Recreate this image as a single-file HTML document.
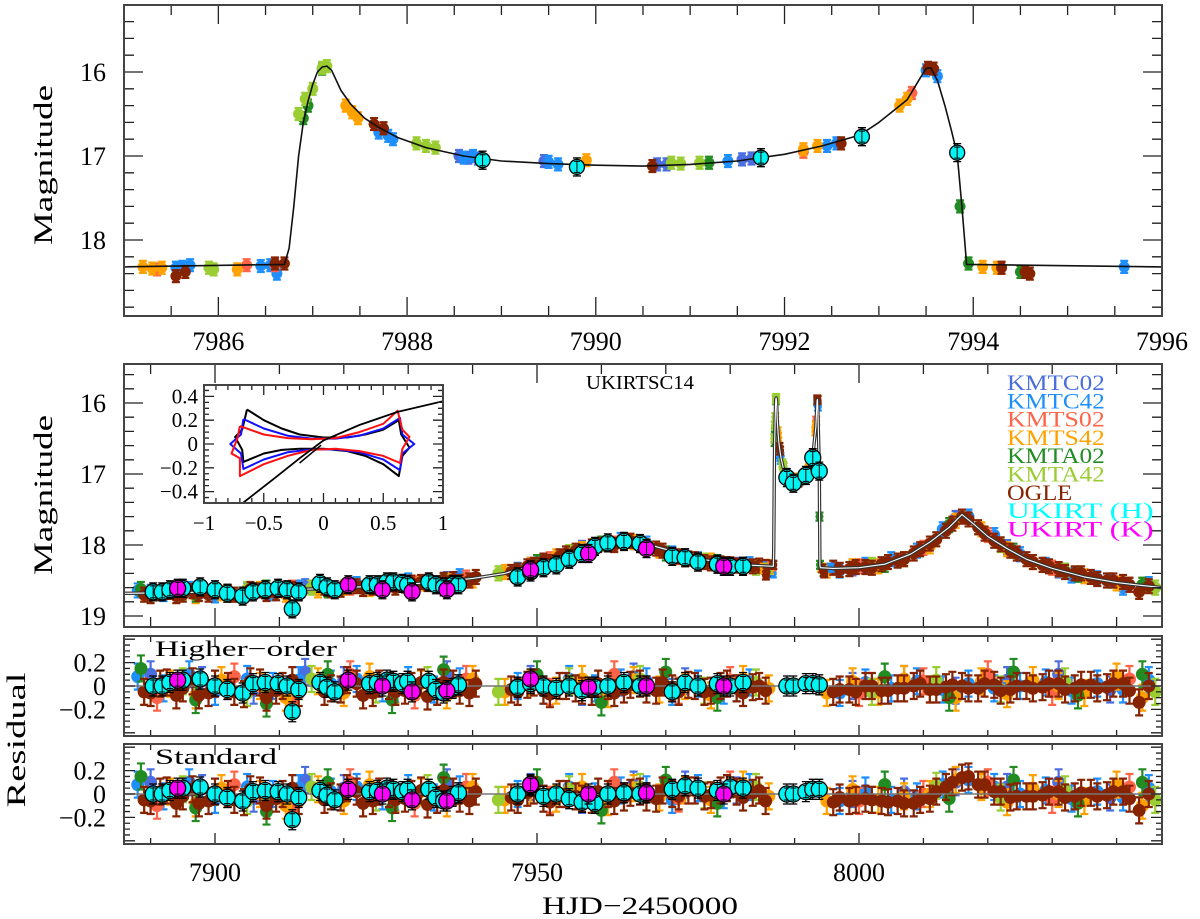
<!DOCTYPE html>
<html><head><meta charset="utf-8"><style>
body{margin:0;background:#fff}
svg{display:block;font-family:"Liberation Serif",serif}
</style></head><body>
<svg id="chart" width="1200" height="919" viewBox="0 0 1200 919" xmlns="http://www.w3.org/2000/svg">
<rect width="1200" height="919" fill="#fff"/>
<g id="top-panel"></g>
<g id="mid-panel"></g>
<g id="res-h"></g>
<g id="res-s"></g>
<g id="inset"></g>
<text style="font-family:'Liberation Serif',serif" transform="translate(52,165) rotate(-90)" text-anchor="middle" font-size="26" textLength="160" lengthAdjust="spacingAndGlyphs">Magnitude</text>
<text style="font-family:'Liberation Serif',serif" transform="translate(52,495) rotate(-90)" text-anchor="middle" font-size="26" textLength="160" lengthAdjust="spacingAndGlyphs">Magnitude</text>
<text style="font-family:'Liberation Serif',serif" transform="translate(25,740) rotate(-90)" text-anchor="middle" font-size="26" textLength="135" lengthAdjust="spacingAndGlyphs">Residual</text>
<text style="font-family:'Liberation Serif',serif" x="640" y="914" text-anchor="middle" font-size="25" textLength="196" lengthAdjust="spacingAndGlyphs">HJD−2450000</text>
<text style="font-family:'Liberation Serif',serif" x="640" y="389" text-anchor="middle" font-size="20" textLength="108" lengthAdjust="spacingAndGlyphs">UKIRTSC14</text>
<text style="font-family:'Liberation Serif',serif" x="155" y="656" font-size="22" textLength="182" lengthAdjust="spacingAndGlyphs">Higher−order</text>
<text style="font-family:'Liberation Serif',serif" x="155" y="764" font-size="22" textLength="122" lengthAdjust="spacingAndGlyphs">Standard</text>
<g id="legend"></g>
</svg>
<script>
// ---------- data ----------
const topTickLabels=[7986,7988,7990,7992,7994,7996];
const topYLabels=[16,17,18];
const midTickLabels=[7900,7950,8000];
const midYLabels=[16,17,18,19];
const resYLabels=[0.2,0,-0.2];
const insetXLabels=[-1,-0.5,0,0.5,1];
const insetYLabels=[0.4,0.2,0,-0.2,-0.4];

const topModelT=[7985,7986.7,7986.75,7986.8,7986.85,7986.9,7986.95,7987.0,7987.05,7987.1,7987.15,7987.2,7987.3,7987.4,7987.55,7987.7,7987.9,7988.2,7988.6,7989,7989.5,7990,7990.5,7991,7991.5,7992,7992.4,7992.8,7993.0,7993.3,7993.45,7993.5,7993.55,7993.62,7993.7,7993.77,7993.83,7993.88,7993.93,7996];
const topModelM=[18.32,18.29,18.1,17.6,17.0,16.6,16.35,16.15,16.0,15.94,15.93,15.98,16.22,16.38,16.55,16.66,16.78,16.9,17.0,17.06,17.09,17.11,17.12,17.1,17.06,16.98,16.88,16.75,16.6,16.33,16.05,15.96,15.95,16.1,16.4,16.7,16.98,17.6,18.29,18.32];
const midModelT1=[7886,7895,7905,7915,7925,7935,7940,7945,7950,7955,7960,7963,7966,7970,7975,7980,7986.7];
const midModelM1=[18.68,18.67,18.65,18.62,18.58,18.52,18.47,18.4,18.27,18.14,18.02,17.96,17.96,18.06,18.19,18.27,18.3];
const midModelT2=[7994,7996,8000,8004,8008,8011,8014,8016,8018,8020,8023,8026,8030,8035,8040,8047];
const midModelM2=[18.32,18.33,18.32,18.27,18.13,17.96,17.75,17.57,17.72,17.88,18.05,18.2,18.33,18.45,18.53,18.6];

const capT_KMTC02=[7988.55,7988.65,7988.75,7989.45,7990.65,7990.75,7991.55,7991.65];
const capM_KMTC02=[17.0,17.02,17.03,17.06,17.1,17.1,17.04,17.03];
const capT_KMTC42=[7985.55,7985.62,7985.7,7986.45,7986.55,7986.62,7987.7,7987.8,7987.85,7988.6,7988.7,7989.5,7989.6,7991.4,7992.45,7992.55,7993.5,7993.62,7995.6];
const capM_KMTC42=[18.33,18.32,18.3,18.31,18.3,18.4,16.72,16.76,16.8,17.02,17.0,17.07,17.1,17.06,16.88,16.85,15.98,16.05,18.32];
const capT_KMTS02=[7985.35,7986.3,7986.6,7992.2,7993.35,7994.3];
const capM_KMTS02=[18.35,18.3,18.3,16.95,16.25,18.33];
const capT_KMTS42=[7985.2,7985.3,7985.4,7986.2,7987.35,7987.42,7987.48,7989.9,7992.2,7992.35,7993.22,7993.3,7994.1,7994.25];
const capM_KMTS42=[18.32,18.34,18.33,18.35,16.4,16.48,16.55,17.05,16.92,16.88,16.4,16.32,18.32,18.33];
const capT_KMTA02=[7986.9,7986.95,7987.1,7991.2,7993.86,7993.95,7994.5];
const capM_KMTA02=[16.55,16.4,15.96,17.08,17.6,18.28,18.38];
const capT_KMTA42=[7985.9,7985.95,7986.85,7986.92,7987.0,7987.1,7987.15,7988.1,7988.2,7988.3,7990.8,7990.9,7991.1];
const capM_KMTA42=[18.33,18.35,16.5,16.32,16.2,15.95,15.93,16.85,16.88,16.9,17.08,17.09,17.08];
const capT_OGLE=[7985.55,7985.65,7986.6,7986.7,7987.65,7987.75,7990.6,7992.6,7993.52,7993.58,7994.3,7994.55,7994.6];
const capM_OGLE=[18.43,18.38,18.28,18.28,16.62,16.67,17.12,16.85,15.95,15.96,18.33,18.38,18.4];
const capT_UKH=[7988.8,7989.8,7991.75,7992.82,7993.83];
const capM_UKH=[17.05,17.13,17.02,16.77,16.96];
const capRH_UKH=[0.0,0.0,0.02,0.02,0.01];
const capRS_UKH=[0.0,0.0,0.02,0.04,0.04];

const t_OGLE=[7889,7891.5,7894,7896.5,7899,7902,7904.5,7907,7909.5,7912,7917,7919.5,7922,7924.5,7927,7929.5,7932,7934.5,7937,7939.5,7946,7948.5,7951,7953.5,7956,7958.5,7961,7963.5,7966,7968.5,7971,7973.5,7976,7978.5,7981,7983.5,7985.5,7996,7998.5,8001,8003.5,8006,8008.5,8011,8013.5,8016,8018.5,8021,8023.5,8026,8028.5,8031,8033.5,8036,8038.5,8041,8043.5];
const m_OGLE=[18.7,18.68,18.72,18.65,18.7,18.66,18.7,18.64,18.68,18.62,18.6,18.63,18.58,18.6,18.55,18.57,18.52,18.55,18.48,18.5,18.38,18.3,18.22,18.16,18.08,18.02,17.98,17.96,17.99,18.05,18.14,18.19,18.24,18.26,18.29,18.3,18.31,18.32,18.34,18.31,18.27,18.22,18.12,17.98,17.8,17.6,17.75,17.94,18.08,18.2,18.28,18.34,18.4,18.45,18.5,18.52,18.66];
const rh_OGLE=[-0.05,0.02,-0.08,0.04,-0.06,0.0,-0.07,0.03,-0.04,0.05,-0.05,-0.03,0.02,-0.06,0.0,-0.04,0.03,-0.05,0.02,-0.06,-0.03,0.01,-0.04,0.0,-0.02,-0.05,0.0,-0.03,0.02,-0.04,-0.02,0.01,-0.05,0.0,-0.02,-0.01,-0.04,-0.05,-0.03,0.0,-0.04,-0.02,0.0,-0.03,-0.01,0.0,-0.02,0.01,-0.03,0.0,-0.01,0.02,-0.02,0.01,-0.01,0.02,-0.14];
const rs_OGLE=[-0.05,0.02,-0.08,0.04,-0.06,0.0,-0.07,0.03,-0.04,0.05,-0.05,-0.03,0.02,-0.06,0.0,-0.04,0.03,-0.05,0.02,-0.06,-0.03,0.01,-0.04,0.0,-0.02,-0.05,0.0,-0.03,0.02,-0.04,0.0,0.03,-0.02,0.03,0.02,0.01,-0.06,-0.07,-0.06,-0.04,-0.06,-0.06,-0.08,-0.04,0.06,0.14,0.08,0.02,-0.03,-0.02,-0.01,0.02,-0.02,0.01,-0.01,0.02,-0.14];
const t_OGLE2=[7890,7892.5,7895,7897.5,7900,7903,7905.5,7908,7910.5,7913,7918,7920.5,7923,7925.5,7928,7930.5,7933,7935.5,7938,7940.5,7947,7949.5,7952,7954.5,7957,7959.5,7962,7964.5,7967,7969.5,7972,7974.5,7977,7979.5,7982,7984.5,7997,7999.5,8002,8004.5,8007,8009.5,8012,8014.5,8017,8019.5,8022,8024.5,8027,8029.5,8032,8034.5,8037,8039.5,8042,8045];
const m_OGLE2=[18.72,18.66,18.7,18.69,18.64,18.7,18.62,18.69,18.63,18.67,18.64,18.58,18.62,18.56,18.6,18.53,18.55,18.49,18.52,18.45,18.36,18.28,18.24,18.12,18.1,18.0,18.0,17.94,18.02,18.08,18.16,18.2,18.26,18.27,18.32,18.29,18.35,18.31,18.32,18.24,18.2,18.06,17.92,17.7,17.64,17.84,17.99,18.12,18.24,18.3,18.38,18.4,18.48,18.5,18.56,18.58];
const rh_OGLE2=[-0.06,0.03,-0.02,-0.08,0.02,-0.05,0.04,-0.1,0.0,-0.06,-0.02,0.05,-0.08,0.02,-0.05,0.0,-0.09,0.03,-0.04,0.02,-0.05,0.03,-0.07,0.0,-0.04,0.02,-0.06,0.01,-0.03,0.03,-0.05,0.0,-0.04,0.02,-0.06,0.0,-0.03,-0.05,0.0,-0.04,-0.02,0.02,-0.03,0.01,-0.02,0.02,-0.04,0.0,-0.02,0.02,-0.03,0.01,-0.02,0.02,-0.04,0.0];
const rs_OGLE2=[-0.06,0.03,-0.02,-0.08,0.02,-0.05,0.04,-0.1,0.0,-0.06,-0.02,0.05,-0.08,0.02,-0.05,0.0,-0.09,0.03,-0.04,0.02,-0.05,0.03,-0.07,0.0,-0.04,0.02,-0.06,0.01,-0.03,0.03,-0.02,0.03,-0.01,0.05,-0.03,0.03,-0.03,-0.05,-0.05,-0.07,-0.08,-0.05,0.02,0.1,0.15,0.08,0.02,-0.02,-0.02,0.02,-0.03,0.01,-0.02,0.02,-0.04,0.0];
const t_KMTC42=[7888,7892,7896,7900,7905,7909,7913,7918,7922,7926,7930,7934,7938,7947,7951,7955,7959,7963,7967,7971,7975,7979,7983,7997,8001,8005,8009,8013,8017,8021,8025,8029,8033,8037,8041,8045];
const m_KMTC42=[18.64,18.69,18.62,18.71,18.63,18.68,18.6,18.62,18.55,18.6,18.5,18.55,18.44,18.35,18.24,18.1,18.04,17.93,17.98,18.12,18.2,18.3,18.27,18.36,18.28,18.2,18.08,17.78,17.6,17.86,18.13,18.28,18.43,18.47,18.6,18.55];
const rh_KMTC42=[0.08,-0.02,0.1,-0.05,0.06,0.0,0.05,0.02,0.06,-0.02,0.05,-0.03,0.04,0.0,-0.04,0.06,-0.02,0.03,0.04,-0.05,0.02,-0.04,0.03,-0.06,0.03,-0.02,0.04,-0.03,0.02,-0.02,0.0,0.03,-0.04,0.02,-0.03,0.05];
const rs_KMTC42=[0.08,-0.02,0.1,-0.05,0.06,0.0,0.05,0.02,0.06,-0.02,0.05,-0.03,0.04,0.0,-0.04,0.06,-0.02,0.03,0.04,-0.05,0.05,-0.01,0.06,-0.06,0.03,-0.05,-0.02,0.08,0.12,0.06,0.0,0.03,-0.04,0.02,-0.03,0.05];
const t_KMTC02=[7890,7898,7906,7914,7920,7928,7936,7949,7957,7965,7973,7981,7999,8007,8015,8023,8031,8039];
const m_KMTC02=[18.66,18.64,18.66,18.58,18.6,18.55,18.48,18.28,18.04,17.96,18.16,18.28,18.33,18.2,17.62,18.03,18.36,18.5];
const rh_KMTC02=[0.1,0.05,-0.04,0.12,0.05,-0.03,0.1,0.06,-0.05,0.08,0.04,-0.02,0.0,0.06,-0.04,0.05,0.1,-0.03];
const rs_KMTC02=[0.1,0.05,-0.04,0.12,0.05,-0.03,0.1,0.06,-0.05,0.08,0.08,0.03,0.0,0.02,0.1,0.06,0.1,-0.03];
const t_KMTS42=[7889,7893,7897,7901,7907,7911,7916,7920,7924,7928,7932,7936,7940,7945,7949,7953,7957,7961,7965,7969,7973,7977,7982,7986,7995,7999,8003,8007,8011,8015,8019,8023,8027,8031,8035,8040,8044];
const m_KMTS42=[18.7,18.66,18.72,18.68,18.62,18.7,18.64,18.6,18.62,18.56,18.54,18.5,18.5,18.38,18.28,18.16,18.06,17.98,17.96,18.08,18.2,18.22,18.3,18.31,18.36,18.3,18.3,18.2,18.02,17.66,17.78,18.06,18.24,18.34,18.44,18.54,18.56];
const rh_KMTS42=[-0.05,0.02,-0.08,0.05,0.0,-0.1,0.04,-0.06,0.08,-0.04,0.02,-0.08,0.06,-0.05,0.03,-0.04,0.06,-0.07,0.05,-0.03,0.0,-0.08,0.06,-0.02,-0.06,0.04,-0.05,0.06,-0.03,-0.1,0.04,-0.07,0.05,0.0,-0.06,0.08,-0.1];
const rs_KMTS42=[-0.05,0.02,-0.08,0.05,0.0,-0.1,0.04,-0.06,0.08,-0.04,0.02,-0.08,0.06,-0.05,0.03,-0.04,0.06,-0.07,0.05,-0.03,0.03,-0.05,0.08,-0.02,-0.06,0.04,-0.05,-0.02,0.0,0.12,0.06,-0.07,0.05,0.0,-0.06,0.08,-0.1];
const t_KMTS02=[7891,7903,7912,7921,7931,7939,7952,7962,7972,7980,8000,8010,8020,8030,8042];
const m_KMTS02=[18.67,18.7,18.6,18.6,18.54,18.46,18.2,17.98,18.17,18.27,18.3,18.04,17.86,18.32,18.56];
const rh_KMTS02=[-0.1,0.08,-0.12,0.1,-0.08,0.06,-0.05,0.1,-0.04,0.05,-0.06,0.04,0.1,-0.05,0.06];
const rs_KMTS02=[-0.1,0.08,-0.12,0.1,-0.08,0.06,-0.05,0.1,-0.04,0.08,-0.06,0.0,0.1,-0.05,0.06];
const t_KMTA02=[7888.5,7897,7908,7917.5,7927.5,7935.5,7950,7960,7970,7978,8004,8014,8024,8034,8044];
const m_KMTA02=[18.62,18.7,18.6,18.64,18.52,18.5,18.24,17.98,18.12,18.24,18.28,17.72,18.08,18.42,18.56];
const rh_KMTA02=[0.15,-0.12,-0.15,0.1,-0.12,0.14,0.1,-0.14,0.12,-0.1,0.08,-0.1,0.12,-0.08,0.1];
const rs_KMTA02=[0.15,-0.12,-0.15,0.1,-0.12,0.14,0.1,-0.14,0.12,-0.08,0.08,-0.04,0.12,-0.08,0.1];
const t_KMTA42=[7895,7905,7915,7925,7933,7944,7955,7966,7976,7984,8002,8012,8022,8032,8046];
const m_KMTA42=[18.68,18.62,18.6,18.58,18.52,18.4,18.1,17.97,18.22,18.32,18.28,17.92,18.0,18.36,18.6];
const rh_KMTA42=[0.04,-0.06,0.06,-0.03,0.05,-0.05,0.04,0.06,-0.04,0.03,-0.05,0.05,-0.03,0.04,-0.05];
const rs_KMTA42=[0.04,-0.06,0.06,-0.03,0.05,-0.05,0.04,0.06,-0.01,0.06,-0.05,0.07,-0.03,0.04,-0.05];
const t_UKH=[7890.4,7891.8,7893,7895,7897.7,7900,7901.9,7904.3,7905.9,7907.8,7909.8,7911.2,7912,7913,7916.3,7917.4,7918.6,7924,7925.2,7926.7,7927.7,7929.1,7929.9,7933.2,7934.3,7935.5,7936.9,7937.8,7947,7949,7951,7953,7955,7957,7959,7961,7963.5,7966,7971,7973,7975,7978,7980,7982];
const m_UKH=[18.66,18.66,18.63,18.61,18.59,18.63,18.68,18.72,18.66,18.63,18.61,18.63,18.9,18.66,18.54,18.59,18.63,18.56,18.56,18.52,18.52,18.54,18.56,18.52,18.56,18.59,18.56,18.56,18.45,18.38,18.32,18.28,18.2,18.12,18.02,17.97,17.95,17.98,18.16,18.18,18.24,18.27,18.3,18.3];
const rh_UKH=[0.0,0.0,0.03,0.05,0.06,0.0,-0.03,-0.06,0.02,0.03,0.02,0.0,-0.22,-0.03,0.03,-0.01,-0.05,0.02,0.03,0.05,0.04,0.02,0.04,0.04,-0.03,-0.06,-0.02,0.01,-0.01,0.02,0.0,-0.02,0.0,-0.04,-0.01,0.0,0.03,0.0,-0.05,0.03,0.0,0.02,0.0,0.03];
const rs_UKH=[0.0,0.0,0.03,0.05,0.06,0.0,-0.03,-0.06,0.02,0.03,0.02,0.0,-0.22,-0.03,0.03,-0.01,-0.05,0.02,0.03,0.05,0.04,0.02,0.04,0.04,-0.03,-0.06,-0.02,0.01,0.0,0.07,-0.02,0.0,-0.04,-0.07,-0.08,0.0,0.01,0.0,0.04,0.07,0.05,0.03,0.06,0.05];
const t_UKK=[7894.2,7920.7,7926,7930.6,7936,7949,7958,7967,7979];
const m_UKK=[18.61,18.56,18.63,18.66,18.63,18.35,18.12,18.05,18.3];
const rh_UKK=[0.05,0.05,0.0,-0.05,-0.04,0.06,-0.01,0.0,0.0];
const rs_UKK=[0.05,0.04,0.0,-0.05,-0.06,0.08,0.0,0.01,0.0];

const legendNames=["KMTC02","KMTC42","KMTS02","KMTS42","KMTA02","KMTA42","OGLE","UKIRT (H)","UKIRT (K)"];

const causBlackX=[-0.64,-0.5,-0.35,-0.2,0.0,0.2,0.35,0.5,0.63,0.65,0.72,0.66,0.63,0.5,0.35,0.2,0.0,-0.2,-0.35,-0.5,-0.67,-0.68,-0.74,-0.68,-0.64];
const causBlackY=[0.29,0.2,0.13,0.08,0.055,0.055,0.08,0.12,0.2,0.08,-0.03,-0.1,-0.27,-0.17,-0.1,-0.06,-0.04,-0.04,-0.05,-0.08,-0.15,-0.05,0.06,0.12,0.29];
const causBlueX=[-0.67,-0.5,-0.3,-0.1,0.1,0.3,0.5,0.64,0.66,0.76,0.66,0.64,0.5,0.3,0.1,-0.1,-0.3,-0.5,-0.67,-0.69,-0.78,-0.69,-0.67];
const causBlueY=[0.21,0.13,0.07,0.045,0.045,0.07,0.13,0.22,0.08,0.0,-0.08,-0.22,-0.13,-0.07,-0.045,-0.045,-0.07,-0.13,-0.21,-0.08,0.0,0.08,0.21];
const causRedX=[-0.7,-0.5,-0.3,-0.1,0.1,0.3,0.5,0.62,0.66,0.72,0.66,0.64,0.5,0.3,0.1,-0.1,-0.3,-0.5,-0.7,-0.7,-0.77,-0.72,-0.7];
const causRedY=[0.15,0.08,0.05,0.04,0.05,0.1,0.17,0.28,0.12,0.06,-0.04,-0.16,-0.1,-0.06,-0.04,-0.05,-0.1,-0.17,-0.27,-0.12,-0.08,0.05,0.15];
const trajX=[-0.68,-0.4,-0.2,0.0,0.3,0.62,1.0];
const trajY=[-0.5,-0.28,-0.12,0.03,0.16,0.27,0.36];
const traj2X=[-0.2,-0.02];
const traj2Y=[-0.16,-0.01];

// ---------- rendering ----------
const NS="http://www.w3.org/2000/svg";
const colors={KMTC02:"#4a6ee0",KMTC42:"#1e8fff",KMTS02:"#ff6448",KMTS42:"#ffa200",KMTA02:"#228b22",KMTA42:"#9acd32",OGLE:"#862300",UKH:"#00f4f4",UKK:"#ff00ff"};
const legendColors=[colors.KMTC02,colors.KMTC42,colors.KMTS02,colors.KMTS42,colors.KMTA02,colors.KMTA42,colors.OGLE,"#00ffff","#ff00ff"];
function el(tag,attrs,parent){const e=document.createElementNS(NS,tag);for(const k in attrs)e.setAttribute(k,attrs[k]);parent.appendChild(e);return e;}

const TX=t=>124+(t-7985)*94.36, TY=m=>72+(m-16)*84;
const MX=t=>215+(t-7900)*6.44, MY=m=>403+(m-16)*71;
const RHY=r=>686-r*117, RSY=r=>794-r*117;
const IX=x=>204+(x+1)*119.5, IY=y=>444-y*119;

function frameTicks(g,x0,y0,x1,y1,xs,ys,lenMaj,lenMin){
  const d=[];
  xs.forEach(v=>{const x=v[0],L=v[1]?lenMaj:lenMin;d.push(`M${x},${y1}v${-L}M${x},${y0}v${L}`);});
  ys.forEach(v=>{const y=v[0],L=v[1]?lenMaj:lenMin;d.push(`M${x0},${y}h${L}M${x1},${y}h${-L}`);});
  const p=el('path',{d:d.join(''),stroke:'#222','stroke-width':1.3,fill:'none'},g);
  
  
  const r=el('rect',{x:x0,y:y0,width:x1-x0,height:y1-y0,fill:'none',stroke:'#444','stroke-width':2},g);
  
  
}
function range(a,b,s){const o=[];for(let v=a;v<=b+1e-9;v+=s)o.push(+v.toFixed(6));return o;}
function isMaj(v,s){return Math.abs(v/s-Math.round(v/s))<1e-6;}

function polyline(g,xs,ys,X,Y,attrs,name){
  const pts=xs.map((x,i)=>X(x).toFixed(1)+','+Y(ys[i]).toFixed(1)).join(' ');
  const p=el('polyline',Object.assign({points:pts,fill:'none','stroke-linejoin':'round'},attrs),g);
  
  
  return p;
}
function points(g,ts,vs,X,Y,color,r,err,big,name,clip){
  const gg=el('g',{},g);
  
  
  if(clip)gg.setAttribute('clip-path',clip);
  ts.forEach((t,i)=>{
    const x=X(t),y=Y(vs[i]);
    el('path',{d:`M${x},${y-err}V${y+err}M${x-4},${y-err}h8M${x-4},${y+err}h8`,stroke:big?'#000':color,'stroke-width':big?1.3:2.2,fill:'none'},gg);
    const c=el('circle',{cx:x,cy:y,r:r,fill:color,stroke:big?'#000':'none','stroke-width':1.3},gg);
    
    
    if(big){el('path',{d:`M${x},${y-r+1}V${y+r-1}M${x-3},${y-r+2}h6M${x-3},${y+r-2}h6`,stroke:'#000','stroke-width':1},gg);}
  });
}
function label(g,x,y,txt,anchor,size,name){
  const t=el('text',{x:x,y:y,'text-anchor':anchor,'font-size':size,style:"font-family:'Liberation Serif',serif"},g);
  t.textContent=txt;
  
  
}
const fmt=v=>(v<0?'−':'')+Math.abs(v);

const defs=el('defs',{},document.getElementById('chart'));
[['clipTop',124,5,1038,311],['clipMid',124,364,1038,263],['clipRH',124,636,1038,100],['clipRS',124,744,1038,100],['clipI',204,385,239,118]].forEach(c=>{
  const cp=el('clipPath',{id:c[0]},defs);el('rect',{x:c[1],y:c[2],width:c[3],height:c[4]},cp);});

const surveys=["KMTC02","KMTC42","KMTS02","KMTS42","KMTA02","KMTA42","OGLE","OGLE2"];
const colorOf=s=>colors[s==='OGLE2'?'OGLE':s];
const capT={KMTC02:capT_KMTC02,KMTC42:capT_KMTC42,KMTS02:capT_KMTS02,KMTS42:capT_KMTS42,KMTA02:capT_KMTA02,KMTA42:capT_KMTA42,OGLE:capT_OGLE};
const capM={KMTC02:capM_KMTC02,KMTC42:capM_KMTC42,KMTS02:capM_KMTS02,KMTS42:capM_KMTS42,KMTA02:capM_KMTA02,KMTA42:capM_KMTA42,OGLE:capM_OGLE};
const sT={KMTC02:t_KMTC02,KMTC42:t_KMTC42,KMTS02:t_KMTS02,KMTS42:t_KMTS42,KMTA02:t_KMTA02,KMTA42:t_KMTA42,OGLE:t_OGLE,OGLE2:t_OGLE2};
const sM={KMTC02:m_KMTC02,KMTC42:m_KMTC42,KMTS02:m_KMTS02,KMTS42:m_KMTS42,KMTA02:m_KMTA02,KMTA42:m_KMTA42,OGLE:m_OGLE,OGLE2:m_OGLE2};
const sRH={KMTC02:rh_KMTC02,KMTC42:rh_KMTC42,KMTS02:rh_KMTS02,KMTS42:rh_KMTS42,KMTA02:rh_KMTA02,KMTA42:rh_KMTA42,OGLE:rh_OGLE,OGLE2:rh_OGLE2};
const sRS={KMTC02:rs_KMTC02,KMTC42:rs_KMTC42,KMTS02:rs_KMTS02,KMTS42:rs_KMTS42,KMTA02:rs_KMTA02,KMTA42:rs_KMTA42,OGLE:rs_OGLE,OGLE2:rs_OGLE2};
const capSurveys=["KMTC02","KMTC42","KMTS02","KMTS42","KMTA02","KMTA42","OGLE"];

// ---- top panel
const gT=document.getElementById('top-panel');
capSurveys.forEach(s=>points(gT,capT[s],capM[s],TX,TY,colors[s],5.5,6,false,'top-'+s.toLowerCase(),'url(#clipTop)'));
polyline(gT,topModelT,topModelM,TX,TY,{stroke:'#111','stroke-width':1.6},'top-model-curve');
points(gT,capT_UKH,capM_UKH,TX,TY,colors.UKH,7.5,9,true,'top-ukirt-h','url(#clipTop)');
frameTicks(gT,124,5,1162,316,
  range(7985,7996,0.5).map(v=>[TX(v),v%2===0]),
  range(15.2,18.8,0.2).map(v=>[TY(v),isMaj(v,1)]),19,10);
topTickLabels.forEach(v=>label(gT,TX(v),350,String(v),'middle',26,'x-tick-label-top'));
topYLabels.forEach(v=>label(gT,106,TY(v)+9,String(v),'end',26,'y-tick-label-top'));

// ---- main panel
const gM=document.getElementById('mid-panel');
surveys.forEach(s=>points(gM,sT[s],sM[s],MX,MY,colorOf(s),6,7,false,'main-'+s.toLowerCase(),'url(#clipMid)'));
capSurveys.forEach(s=>points(gM,capT[s],capM[s],MX,MY,colors[s],4,4,false,'main-caustic-'+s.toLowerCase(),'url(#clipMid)'));
const mT=[...midModelT1],mM=[...midModelM1];
topModelT.forEach((t,i)=>{if(t>7986.7&&t<7994){mT.push(t);mM.push(topModelM[i]);}});
midModelT2.forEach((t,i)=>{mT.push(t);mM.push(midModelM2[i]);});
polyline(gM,mT,mM,MX,MY,{stroke:'#333','stroke-width':3.4,'clip-path':'url(#clipMid)'},'main-model-outline');
polyline(gM,mT,mM,MX,MY,{stroke:'#fff','stroke-width':1.1,'clip-path':'url(#clipMid)'},'main-model-curve');
points(gM,t_UKH,m_UKH,MX,MY,colors.UKH,8,9,true,'main-ukirt-h','url(#clipMid)');
points(gM,capT_UKH,capM_UKH,MX,MY,colors.UKH,8,9,true,'main-ukirt-h-caustic','url(#clipMid)');
points(gM,t_UKK,m_UKK,MX,MY,colors.UKK,8,9,true,'main-ukirt-k','url(#clipMid)');
frameTicks(gM,124,364,1162,627,
  range(7890,8040,10).map(v=>[MX(v),isMaj(v,50)]),
  range(15.6,19.0,0.2).map(v=>[MY(v),isMaj(v,1)]),19,10);
midYLabels.forEach(v=>label(gM,106,MY(v)+9,String(v),'end',26,'y-tick-label-main'));

// ---- residual panels
function resPanel(id,Y,y0,y1,key){
  const g=document.getElementById(id);
  const clip=id==='res-h'?'url(#clipRH)':'url(#clipRS)';
  surveys.forEach(s=>points(g,sT[s],key==='h'?sRH[s]:sRS[s],MX,Y,colorOf(s),6.5,13,false,id+'-'+s.toLowerCase(),clip));
  const z=el('line',{x1:124,x2:1162,y1:Y(0),y2:Y(0),stroke:'#777','stroke-width':1.6},g);
  
  
  points(g,t_UKH,key==='h'?rh_UKH:rs_UKH,MX,Y,colors.UKH,8,10,true,id+'-ukirt-h',clip);
  points(g,capT_UKH,key==='h'?capRH_UKH:capRS_UKH,MX,Y,colors.UKH,8,10,true,id+'-ukirt-h-caustic',clip);
  points(g,t_UKK,key==='h'?rh_UKK:rs_UKK,MX,Y,colors.UKK,8,10,true,id+'-ukirt-k',clip);
  frameTicks(g,124,y0,1162,y1,
    range(7890,8040,10).map(v=>[MX(v),isMaj(v,50)]),
    range(-0.4,0.4,0.05).map(v=>[Y(v),isMaj(v,0.2)]),11,6);
  resYLabels.forEach(v=>label(g,106,Y(v)+9,fmt(v),'end',26,'y-tick-label-residual'));
}
resPanel('res-h',RHY,636,736,'h');
resPanel('res-s',RSY,744,844,'s');
midTickLabels.forEach(v=>label(document.getElementById('res-s'),MX(v),881,String(v),'middle',26,'x-tick-label-bottom'));

// ---- inset
const gI=document.getElementById('inset');
el('rect',{x:204,y:385,width:239,height:118,fill:'#fff'},gI);
polyline(gI,causBlackX,causBlackY,IX,IY,{stroke:'#000','stroke-width':2},'caustic-black');
polyline(gI,causBlueX,causBlueY,IX,IY,{stroke:'#1010ff','stroke-width':2},'caustic-blue');
polyline(gI,causRedX,causRedY,IX,IY,{stroke:'#ff1010','stroke-width':2},'caustic-red');
polyline(gI,trajX,trajY,IX,IY,{stroke:'#000','stroke-width':1.8,'clip-path':'url(#clipI)'},'source-trajectory');
polyline(gI,traj2X,traj2Y,IX,IY,{stroke:'#000','stroke-width':1.5},'source-trajectory-alt');
frameTicks(gI,204,385,443,503,
  range(-1,1,0.1).map(v=>[IX(v),isMaj(v,0.5)]),
  range(-0.45,0.45,0.05).map(v=>[IY(v),isMaj(v,0.2)]),10,5);
insetXLabels.forEach(v=>label(gI,IX(v),530,fmt(v),'middle',21,'inset-x-tick-label'));
insetYLabels.forEach(v=>label(gI,198,IY(v)+7,fmt(v),'end',21,'inset-y-tick-label'));

// ---- legend
const gL=document.getElementById('legend');
legendNames.forEach((n,i)=>{
  const t=el('text',{x:1007,y:390+i*18.3,'font-size':22,style:"font-family:'Liberation Serif',serif",fill:legendColors[i],textLength:n.length*16.3,lengthAdjust:'spacingAndGlyphs'},gL);
  t.textContent=n;
  
  
});
</script>
</body></html>
